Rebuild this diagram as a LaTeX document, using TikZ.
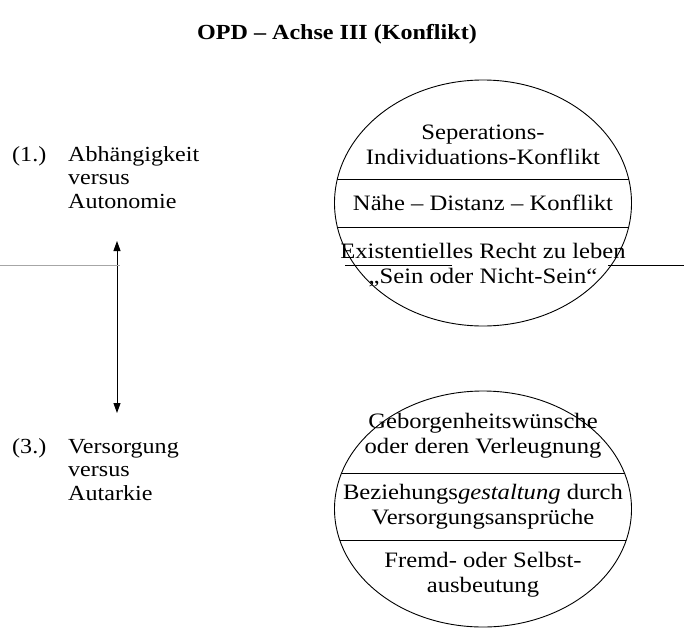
\documentclass[tikz,border=0pt]{standalone}
\usepackage{fontspec}
\setmainfont{Liberation Serif}[FakeStretch=1.12]
\usetikzlibrary{shapes.geometric,arrows.meta}
\begin{document}
\begin{tikzpicture}[x=1pt,y=-1pt,
  txt/.style={inner sep=0pt,font=\fontsize{21.5}{23.5}\selectfont},
  ctxt/.style={inner sep=0pt,align=center,font=\fontsize{22}{25}\selectfont},
  oval/.style={draw,ellipse,line width=0.9pt,inner sep=0pt},
  sep/.style={line width=0.9pt},
  guide/.style={line width=0.6pt,gray!70}]
\useasboundingbox (0,0) rectangle (684,637);
% title
\node[txt,font=\fontsize{21.5}{24}\selectfont\bfseries,anchor=base] (title) at (337,39) {OPD -- Achse III (Konflikt)};
% left labels
\node[txt,anchor=base west] (n1) at (12,161) {(1.)};
\node[txt,anchor=base west,align=left] (l1) at (68,208) {Abhängigkeit\\versus\\Autonomie};
\node[txt,anchor=base west] (n3) at (12,453) {(3.)};
\node[txt,anchor=base west,align=left] (l3) at (68,500) {Versorgung\\versus\\Autarkie};
% arrow
\coordinate (at) at (117,241);
\coordinate (ab) at (117,413);
\draw[line width=0.9pt,{Triangle[width=7pt,length=10pt]}-{Triangle[width=7pt,length=10pt]}] (at) -- (ab);
% guide lines
\coordinate (g1) at (0,265);
\coordinate (g2) at (120,265);
\draw[guide] (g1) -- (g2);
% upper ellipse
\node[oval,minimum width=297pt,minimum height=246pt] (e1) at (483,203) {};
\begin{scope}
\clip (483,203) ellipse [x radius=148.5,y radius=123];
\draw[sep] (300,179) -- (700,179);
\draw[sep] (300,227) -- (700,227);
\end{scope}
\node[ctxt] (t1) at (483,145) {Seperations-\\Individuations-Konflikt};
\node[ctxt] (t2) at (483,203) {Nähe -- Distanz -- Konflikt};
\node[ctxt] (t3) at (483,265) {Existentielles Recht zu leben\\„Sein oder Nicht-Sein“};
\coordinate (h1) at (345,265);
\coordinate (h2) at (452,265);
\coordinate (h3) at (608,265);
\coordinate (h4) at (684,265);
\draw[line width=0.7pt] (h1) -- (h2);
\draw[line width=0.7pt] (h3) -- (h4);
% lower ellipse
\node[oval,minimum width=297pt,minimum height=236pt] (e2) at (483,509) {};
\begin{scope}
\clip (483,509) ellipse [x radius=148.5,y radius=118];
\draw[sep] (300,473) -- (700,473);
\draw[sep] (300,540) -- (700,540);
\end{scope}
\node[ctxt] (t4) at (483,436) {Geborgenheitswünsche\\oder deren Verleugnung};
\node[ctxt] (t5) at (483,507) {Beziehungs\textit{gestaltung} durch\\Versorgungsansprüche};
\node[ctxt] (t6) at (483,575) {Fremd- oder Selbst-\\ausbeutung};
\end{tikzpicture}
\end{document}
